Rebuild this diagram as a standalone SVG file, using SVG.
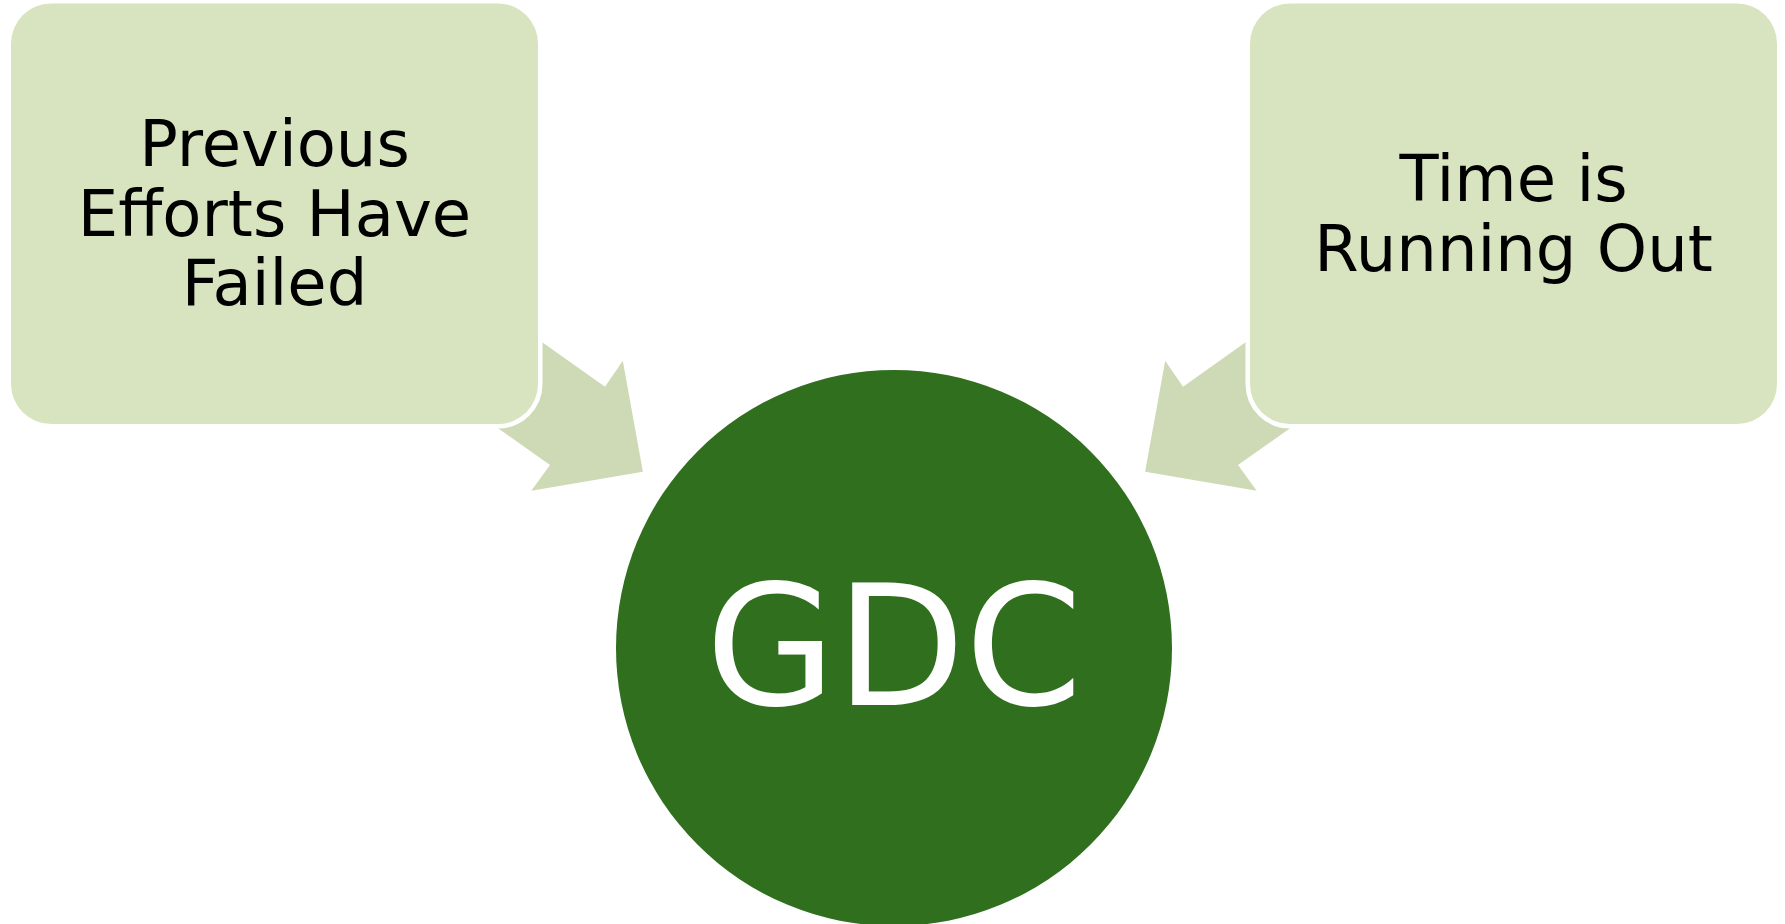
<svg xmlns="http://www.w3.org/2000/svg" width="1785" height="924" viewBox="0 0 1785 924">
  <style>
    .box { fill: #D8E4BF; stroke: #FFFFFF; stroke-width: 9; paint-order: stroke; }
    .arrow { fill: #CDDAB5; }
    .lbl { font-family: "DejaVu Sans", Verdana, sans-serif; font-size: 64px; fill: #000000; text-anchor: middle; }
    .hub { fill: #2F6F1E; }
    .hubl { font-family: "DejaVu Sans", Verdana, sans-serif; font-size: 168px; fill: #FFFFFF; text-anchor: middle; }
  </style>
  <rect width="1785" height="924" fill="#FFFFFF"/>
  <g id="connectors">
    <polygon class="arrow" points="482.8,300 605,386.7 622.8,360.7 642.9,471.7 531.3,490.7 550,465 439,386.6"/>
    <polygon class="arrow" points="1305.2,300 1183,386.7 1165.2,360.7 1145.1,471.7 1256.7,490.7 1238,465 1349,386.6"/>
  </g>
  <g id="node-previous">
    <rect class="box" x="11" y="3.5" width="527" height="420.5" rx="40" ry="40"/>
    <text class="lbl" x="274.5" y="166">Previous</text>
    <text class="lbl" x="274.5" y="236">Efforts Have</text>
    <text class="lbl" x="274.5" y="305">Failed</text>
  </g>
  <g id="node-time">
    <rect class="box" x="1250" y="3.5" width="527" height="420.5" rx="40" ry="40"/>
    <text class="lbl" x="1513.5" y="201">Time is</text>
    <text class="lbl" x="1513.5" y="271">Running Out</text>
  </g>
  <g id="node-gdc">
    <circle class="hub" cx="894" cy="648" r="278"/>
    <text class="hubl" x="894" y="705">GDC</text>
  </g>
</svg>
